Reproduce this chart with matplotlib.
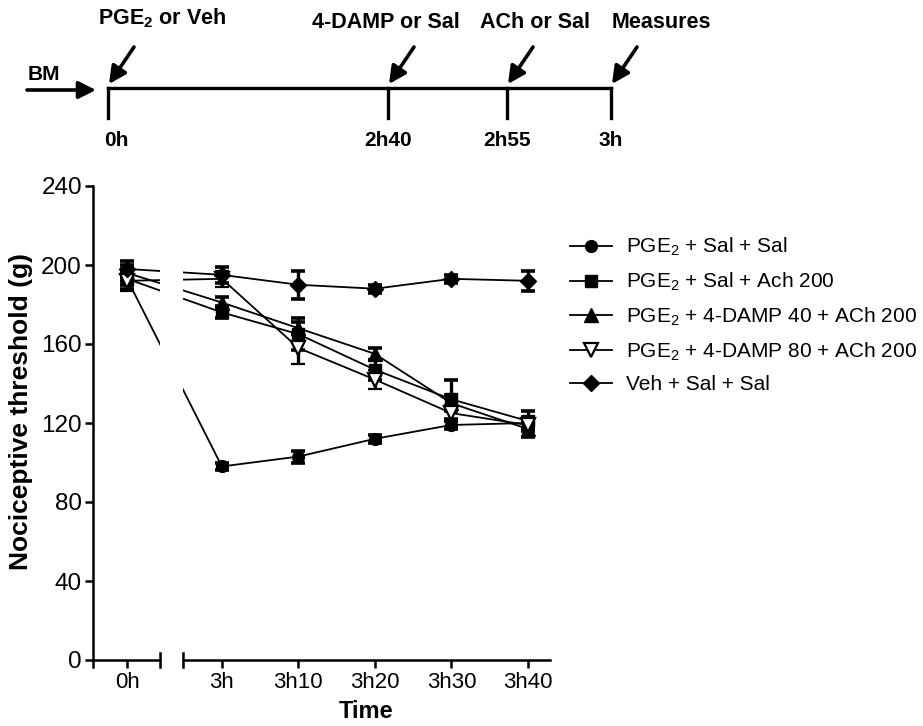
import matplotlib
matplotlib.use("Agg")
import matplotlib.pyplot as plt
import numpy as np

plt.rcParams['font.family'] = ['Liberation Sans', 'DejaVu Sans']
plt.rcParams['mathtext.default'] = 'regular'

# ---------------- data ----------------
time_labels = ["0h", "3h", "3h10", "3h20", "3h30", "3h40"]
series_labels = [
    "PGE$_2$ + Sal + Sal",
    "PGE$_2$ + Sal + Ach 200",
    "PGE$_2$ + 4-DAMP 40 + ACh 200",
    "PGE$_2$ + 4-DAMP 80 + ACh 200",
    "Veh + Sal + Sal",
]
pge_sal_sal = [193, 98, 103, 112, 119, 120]
pge_sal_sal_err = [3, 2, 3, 2, 2, 3]
pge_sal_ach = [193, 176, 165, 147, 132, 121]
pge_sal_ach_err = [5, 3, 8, 5, 10, 5]
pge_damp40_ach = [196, 181, 168, 155, 130, 117]
pge_damp40_ach_err = [4, 3, 3, 3, 4, 4]
pge_damp80_ach = [192, 193, 158, 142, 125, 119]
pge_damp80_ach_err = [5, 4, 8, 5, 4, 3]
veh_sal_sal = [198, 195, 190, 188, 193, 192]
veh_sal_sal_err = [4, 4, 7, 2, 2, 5]

y_ticks = [0, 40, 80, 120, 160, 200, 240]

timeline_labels = ["0h", "2h40", "2h55", "3h"]
event_labels = ["PGE$_2$ or Veh", "4-DAMP or Sal", "ACh or Sal", "Measures"]

# ---------------- layout ----------------
W, H = 923, 726
fig = plt.figure(figsize=(W / 100, H / 100), dpi=100)

gap = 0.24
x_pos = np.array([0] + [i + gap for i in range(1, len(time_labels))], dtype=float)

y_top_px, y_bot_px = 186, 660
axL = fig.add_axes([93 / W, 1 - y_bot_px / H, (160 - 93) / W, (y_bot_px - y_top_px) / H])
axR = fig.add_axes([183 / W, 1 - y_bot_px / H, (550 - 183) / W, (y_bot_px - y_top_px) / H])

unit = 76.5
x0px = 127
axL.set_xlim((93 - x0px) / unit, (160 - x0px) / unit)
axR.set_xlim((183 - x0px) / unit, (550 - x0px) / unit)

series = [
    (pge_sal_sal, pge_sal_sal_err, dict(marker='o', ms=8.5, mfc='k', mec='k')),
    (pge_sal_ach, pge_sal_ach_err, dict(marker='s', ms=8, mfc='k', mec='k')),
    (pge_damp40_ach, pge_damp40_ach_err, dict(marker='^', ms=9.5, mfc='k', mec='k')),
    (pge_damp80_ach, pge_damp80_ach_err, dict(marker='v', ms=9.5, mfc='white', mec='k', mew=1.6)),
    (veh_sal_sal, veh_sal_sal_err, dict(marker='D', ms=8, mfc='k', mec='k')),
]

handles = []
for (vals, errs, style), lab in zip(series, series_labels):
    for ax in (axL, axR):
        ax.errorbar(x_pos, vals, yerr=errs, color='k', lw=1.3, elinewidth=2.4,
                    capsize=5, capthick=2.6, **style)
    h, = axR.plot([], [], color='k', lw=1.3, **style)
    handles.append(h)

for ax in (axL, axR):
    ax.set_ylim(0, 240)
    ax.spines['top'].set_visible(False)
    ax.spines['right'].set_visible(False)
    ax.spines['bottom'].set_linewidth(1.8)
    ax.spines['left'].set_linewidth(1.8)
    ax.tick_params(axis='both', direction='out', length=6, width=1.8, colors='k')
    ax.tick_params(axis='x', pad=3, labelsize=16)
    ax.tick_params(axis='y', pad=2, labelsize=17.5)

axL.set_yticks(y_ticks)
axL.set_xticks([x_pos[0]])
axL.set_xticklabels([time_labels[0]])
axR.spines['left'].set_visible(False)
axR.set_yticks([])
axR.set_xticks(x_pos[1:])
axR.set_xticklabels(time_labels[1:])

# break caps at segment ends
cap = 7 / (y_bot_px - y_top_px)
axL.plot([1, 1], [-cap, cap], transform=axL.transAxes, color='k', lw=1.8, clip_on=False)
axR.plot([0, 0], [-cap, cap], transform=axR.transAxes, color='k', lw=1.8, clip_on=False)
axL.plot([0, 0], [-cap, 0], transform=axL.transAxes, color='k', lw=1.8, clip_on=False)

fig.text(21 / W, 1 - 412 / H, "Nociceptive threshold (g)", rotation=90,
         ha='center', va='center', fontsize=19, fontweight='bold')
fig.text(366 / W, 1 - 711 / H, "Time", ha='center', va='center',
         fontsize=17, fontweight='bold')

fig.legend(handles, series_labels, loc='upper left',
           bbox_to_anchor=(570 / W, 1 - 236 / H), frameon=False,
           fontsize=15, handlelength=2.0, handletextpad=0.7,
           labelspacing=0.6, borderaxespad=0, borderpad=0)

# ---------------- protocol timeline ----------------
axT = fig.add_axes([0, 0, 1, 1])
axT.set_xlim(0, W)
axT.set_ylim(H, 0)
axT.axis('off')

line_y = 88
tick_x = [108, 388, 507, 611]
axT.plot([tick_x[0], tick_x[-1]], [line_y, line_y], color='k', lw=2.4)
for tx, lab in zip(tick_x, timeline_labels):
    axT.plot([tx, tx], [line_y, 118], color='k', lw=2.4)
    if tx == tick_x[0]:
        axT.text(tx - 4, 140, lab, ha='left', va='center', fontsize=15, fontweight='bold')
    else:
        axT.text(tx, 140, lab, ha='center', va='center', fontsize=15, fontweight='bold')

event_text_x = [98, 386, 535, 612]
event_y = [18, 22, 22, 22]
event_ha = ['left', 'center', 'center', 'left']
for tx, lab, ex, ey, ha in zip(tick_x, event_labels, event_text_x, event_y, event_ha):
    axT.annotate('', xy=(tx + 1, line_y - 4), xytext=(tx + 26, 47),
                 arrowprops=dict(arrowstyle='-|>', color='k', lw=2.6,
                                 mutation_scale=26, shrinkA=0, shrinkB=0))
    axT.text(ex, ey, lab, ha=ha, va='center', fontsize=15.5, fontweight='bold')

axT.text(28, 74, "BM", ha='left', va='center', fontsize=15, fontweight='bold')
axT.annotate('', xy=(96, 90), xytext=(27, 90),
             arrowprops=dict(arrowstyle='-|>', color='k', lw=2.6,
                             mutation_scale=26, shrinkA=0, shrinkB=0))

fig.savefig("out.png", dpi=100)
